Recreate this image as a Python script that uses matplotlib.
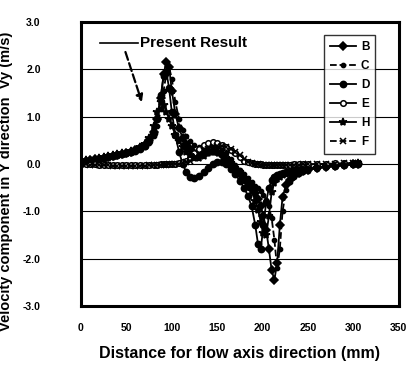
import matplotlib
matplotlib.use("Agg")
import matplotlib.pyplot as plt

plt.rcParams['font.family'] = ['Liberation Sans', 'DejaVu Sans']

x = [0, 5, 10, 15, 20, 25, 30, 35, 40, 45, 50, 55, 60, 65, 70, 75, 80,
     84, 88, 91, 94, 97, 100, 104, 108, 112, 116, 120,
     125, 130, 135, 140, 145, 150, 155, 160, 165, 170, 175, 180,
     184, 188, 192, 195, 198, 201, 204, 207, 210, 213, 216, 219, 222,
     226, 230, 235, 240, 245, 250, 260, 270, 280, 290, 300, 305]

B = [0.05, 0.07, 0.08, 0.10, 0.11, 0.13, 0.15, 0.17, 0.19, 0.21, 0.23, 0.26, 0.29, 0.33, 0.40, 0.50, 0.68,
     0.95, 1.40, 1.90, 2.15, 2.05, 1.55, 1.05, 0.75, 0.55, 0.42, 0.32,
     0.22, 0.18, 0.20, 0.25, 0.28, 0.25, 0.18, 0.08, -0.02, -0.12, -0.22, -0.32,
     -0.40, -0.50, -0.62, -0.75, -0.90, -1.10, -1.40, -1.80, -2.25, -2.45, -2.10, -1.30, -0.70,
     -0.45, -0.33, -0.25, -0.20, -0.16, -0.13, -0.09, -0.06, -0.04, -0.02, -0.01, 0.0]

C = [0.02, 0.04, 0.06, 0.08, 0.09, 0.11, 0.13, 0.15, 0.17, 0.19, 0.21, 0.24, 0.27, 0.31, 0.36, 0.44, 0.58,
     0.80, 1.15, 1.55, 1.90, 2.05, 1.80, 1.30, 0.95, 0.72, 0.58, 0.48,
     0.40, 0.36, 0.36, 0.38, 0.40, 0.38, 0.32, 0.22, 0.10, -0.02, -0.12, -0.22,
     -0.30, -0.38, -0.46, -0.52, -0.58, -0.66, -0.76, -0.90, -1.15, -1.60, -2.20, -1.80, -1.00,
     -0.55, -0.38, -0.28, -0.22, -0.17, -0.14, -0.10, -0.07, -0.05, -0.03, -0.02, 0.0]

D = [0.04, 0.06, 0.08, 0.09, 0.11, 0.12, 0.14, 0.16, 0.18, 0.20, 0.22, 0.25, 0.28, 0.32, 0.38, 0.48, 0.65,
     0.95, 1.45, 1.85, 1.95, 1.60, 1.10, 0.60, 0.25, 0.00, -0.18, -0.28,
     -0.30, -0.25, -0.18, -0.08, 0.00, 0.05, 0.05, 0.00, -0.10, -0.22, -0.36, -0.52,
     -0.68, -0.90, -1.30, -1.70, -1.80, -1.30, -0.80, -0.50, -0.35, -0.28, -0.24, -0.21, -0.19,
     -0.17, -0.15, -0.13, -0.11, -0.10, -0.09, -0.07, -0.05, -0.04, -0.02, -0.01, 0.0]

E = [0.00, 0.00, -0.01, -0.01, -0.02, -0.02, -0.02, -0.03, -0.03, -0.03, -0.03, -0.03, -0.03, -0.03, -0.03, -0.02, -0.02,
     -0.02, -0.01, -0.01, 0.00, 0.00, 0.00, 0.00, 0.01, 0.03, 0.07, 0.13,
     0.22, 0.32, 0.40, 0.45, 0.46, 0.44, 0.40, 0.36, 0.30, 0.22, 0.14, 0.07,
     0.03, 0.01, 0.00, -0.01, -0.01, -0.02, -0.02, -0.02, -0.02, -0.02, -0.02, -0.02, -0.02,
     -0.02, -0.02, -0.01, -0.01, -0.01, -0.01, 0.00, 0.00, 0.01, 0.01, 0.02, 0.02]

H = [0.06, 0.08, 0.09, 0.11, 0.12, 0.14, 0.16, 0.18, 0.20, 0.22, 0.24, 0.27, 0.30, 0.35, 0.42, 0.55, 0.80,
     1.10, 1.30, 1.25, 1.10, 0.95, 0.80, 0.62, 0.48, 0.36, 0.26, 0.18,
     0.12, 0.12, 0.16, 0.22, 0.26, 0.26, 0.20, 0.12, 0.02, -0.08, -0.18, -0.30,
     -0.42, -0.58, -0.78, -0.98, -1.22, -1.45, -1.50, -1.10, -0.60, -0.40, -0.32, -0.27, -0.24,
     -0.21, -0.19, -0.17, -0.15, -0.13, -0.12, -0.09, -0.07, -0.05, -0.03, -0.01, 0.01]

F = [-0.01, -0.01, -0.02, -0.02, -0.03, -0.03, -0.03, -0.04, -0.04, -0.04, -0.04, -0.04, -0.04, -0.04, -0.04, -0.03, -0.03,
     -0.03, -0.02, -0.02, -0.02, -0.01, -0.01, -0.01, 0.00, 0.01, 0.03, 0.06,
     0.12, 0.20, 0.27, 0.32, 0.35, 0.37, 0.38, 0.36, 0.32, 0.26, 0.18, 0.10,
     0.05, 0.02, 0.00, -0.01, -0.02, -0.02, -0.03, -0.03, -0.03, -0.03, -0.03, -0.03, -0.03,
     -0.03, -0.02, -0.02, -0.02, -0.01, -0.01, -0.01, 0.00, 0.00, 0.01, 0.01, 0.02]

series = [("B", B, dict(marker='D', ms=4, ls='-', mfc='black')),
          ("C", C, dict(marker='.', ms=6, ls='--', mfc='black')),
          ("D", D, dict(marker='o', ms=4.5, ls='-', mfc='black')),
          ("E", E, dict(marker='o', ms=4, ls='-', mfc='white')),
          ("H", H, dict(marker='*', ms=6, ls='-', mfc='black')),
          ("F", F, dict(marker='x', ms=4.5, ls='--', mfc='black'))]

xticks = [0, 50, 100, 150, 200, 250, 300, 350]
yticks = [-3, -2, -1, 0, 1, 2, 3]
ytick_labels = ['-3.0', '-2.0', '-1.0', '0.0', '1.0', '2.0', '3.0']

fig = plt.figure(figsize=(4.09, 3.65), dpi=100)
ax = fig.add_axes([0.198, 0.162, 0.777, 0.778])

for name, ys, st in series:
    ax.plot(x, ys, color='black', lw=1.3, mec='black', mew=1.1, label=name, **st)

ax.set_xlim(0, 350)
ax.set_ylim(-3, 3)
ax.set_xticks(xticks)
ax.set_yticks(yticks)
ax.set_yticklabels(ytick_labels)
ax.tick_params(length=0, labelsize=7.5)
ax.tick_params(axis='y', pad=29)
ax.tick_params(axis='x', pad=12)
for lab in ax.get_xticklabels() + ax.get_yticklabels():
    lab.set_fontweight('bold')
ax.grid(axis='y', color='black', lw=0.8)
ax.set_axisbelow(True)
for s in ax.spines.values():
    s.set_linewidth(2.2)

ax.set_xlabel('Distance for flow axis direction (mm)', fontsize=11.5, fontweight='bold', labelpad=10)
ax.set_ylabel('Velocity component in Y direction  Vy (m/s)', fontsize=10.5, fontweight='bold', labelpad=2)
ax.yaxis.set_label_coords(-0.215, 0.44)

# Present Result annotation
ax.plot([21, 63], [2.56, 2.56], color='black', lw=1.2)
ax.text(65, 2.56, 'Present Result', fontsize=11, fontweight='bold', va='center', ha='left')
ax.annotate('', xy=(68, 1.25), xytext=(48, 2.42),
            arrowprops=dict(arrowstyle='-|>', ls='--', color='black', lw=1.6))

leg = ax.legend(loc='upper right', bbox_to_anchor=(0.945, 0.975), fontsize=8.5,
                frameon=True, fancybox=False, edgecolor='black', handlelength=2.2,
                labelspacing=0.6, borderpad=0.5, handletextpad=0.4)
leg.get_frame().set_linewidth(1.0)
for t in leg.get_texts():
    t.set_fontweight('bold')

fig.savefig('out.png', dpi=100)
